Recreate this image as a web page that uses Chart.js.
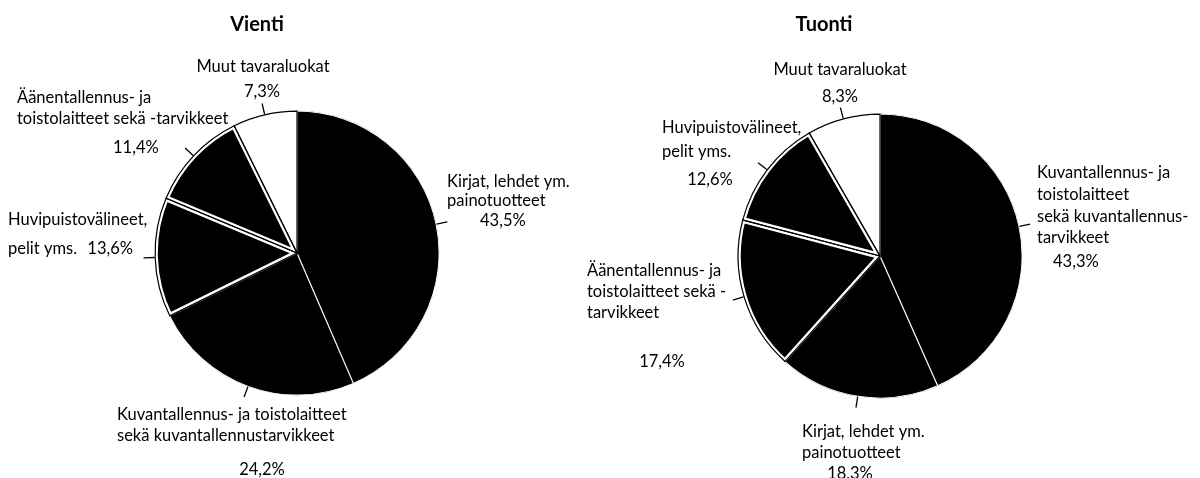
<!DOCTYPE html>
<html><head><meta charset="utf-8">
<script src="https://cdn.jsdelivr.net/npm/chart.js@4/dist/chart.umd.min.js"></script>
<style>
html,body{margin:0;padding:0;background:#fff;width:1200px;height:478px;overflow:hidden}
canvas{position:absolute;left:0;top:0}
</style></head><body>
<canvas id="vienti" width="1200" height="478"></canvas>
<canvas id="tuonti" width="1200" height="478"></canvas>
<script>
// ---- data ----
const titles = ["Vienti", "Tuonti"];
const viCategories = [
  "Kirjat, lehdet ym. painotuotteet",
  "Kuvantallennus- ja toistolaitteet sekä kuvantallennustarvikkeet",
  "Huvipuistovälineet, pelit yms.",
  "Äänentallennus- ja toistolaitteet sekä -tarvikkeet",
  "Muut tavaraluokat"
];
const viValues = [43.5, 24.2, 13.6, 11.4, 7.3];
const tuCategories = [
  "Kuvantallennus- ja toistolaitteet sekä kuvantallennustarvikkeet",
  "Kirjat, lehdet ym. painotuotteet",
  "Äänentallennus- ja toistolaitteet sekä -tarvikkeet",
  "Huvipuistovälineet, pelit yms.",
  "Muut tavaraluokat"
];
const tuValues = [43.3, 18.3, 17.4, 12.6, 8.3];

// ---- label layout (text lines of each category label; last entry = value) ----
const viLabelLayout = [
  {lines:[["Kirjat, lehdet ym.",447,182,"left"],["painotuotteet",447,201,"left"]], value:[480,221,"left"]},
  {lines:[["Kuvantallennus- ja toistolaitteet",117,415,"left"],["sekä kuvantallennustarvikkeet",117,436,"left"]], value:[262,470,"center"]},
  {lines:[["Huvipuistovälineet,",8,220,"left"],["pelit yms.",8,249,"left"]], value:[133,249,"right"]},
  {lines:[["Äänentallennus- ja",17,98,"left"],["toistolaitteet sekä -tarvikkeet",17,119,"left"]], value:[113,148,"left"]},
  {lines:[["Muut tavaraluokat",263,67,"center"]], value:[262,92,"center"]}
];
const tuLabelLayout = [
  {lines:[["Kuvantallennus- ja",1037,173,"left"],["toistolaitteet",1037,195,"left"],["sekä kuvantallennus-",1037,217,"left"],["tarvikkeet",1037,238,"left"]], value:[1053,262,"left"]},
  {lines:[["Kirjat, lehdet ym.",802,432,"left"],["painotuotteet",802,453,"left"]], value:[850,474,"center"]},
  {lines:[["Äänentallennus- ja",587,271,"left"],["toistolaitteet sekä -",587,292,"left"],["tarvikkeet",587,313,"left"]], value:[662,362,"center"]},
  {lines:[["Huvipuistovälineet,",662,128,"left"],["pelit yms.",662,152,"left"]], value:[710,180,"center"]},
  {lines:[["Muut tavaraluokat",840,70,"center"]], value:[840,97,"center"]}
];

const FONT = '16.5px Lato, "Open Sans", sans-serif';
const TITLE_FONT = 'bold 20px Lato, "Open Sans", sans-serif';

// slice styles
const fills = ["#000000", "#000000", "#000000", "#000000", "#ffffff"];
const bandWidths = [0.6, 0.6, 3, 3, 0];
const outlined = [false, false, true, true, true];

function fmt(v){ return v.toFixed(1).replace('.', ',') + '%'; }

const decorPlugin = {
  id: 'decor',
  afterDatasetsDraw(chart, args, opts) {
    const ctx = chart.ctx;
    const meta = chart.getDatasetMeta(0);
    const values = chart.data.datasets[0].data;
    ctx.save();
    // slice outlines
    meta.data.forEach((arc, i) => {
      if (!outlined[i]) return;
      const p = arc.getProps(['x','y','startAngle','endAngle','outerRadius'], true);
      ctx.beginPath();
      ctx.moveTo(p.x, p.y);
      ctx.arc(p.x, p.y, p.outerRadius - 0.6, p.startAngle, p.endAngle);
      ctx.closePath();
      ctx.lineWidth = 1.2;
      ctx.lineJoin = 'miter';
      ctx.strokeStyle = '#000';
      ctx.stroke();
    });
    // leader lines
    meta.data.forEach((arc, i) => {
      const p = arc.getProps(['x','y','startAngle','endAngle','outerRadius'], true);
      const mid = (p.startAngle + p.endAngle) / 2;
      const r0 = p.outerRadius, r1 = p.outerRadius + 11;
      ctx.beginPath();
      ctx.moveTo(p.x + Math.cos(mid) * r0, p.y + Math.sin(mid) * r0);
      ctx.lineTo(p.x + Math.cos(mid) * r1, p.y + Math.sin(mid) * r1);
      ctx.lineWidth = 1.3;
      ctx.strokeStyle = '#000';
      ctx.stroke();
    });
    // labels
    ctx.fillStyle = '#000';
    ctx.textBaseline = 'middle';
    ctx.font = FONT;
    opts.layout.forEach((lab, i) => {
      lab.lines.forEach(([t, x, y, a]) => { ctx.textAlign = a; ctx.fillText(t, x, y); });
      const [vx, vy, va] = lab.value;
      ctx.textAlign = va;
      ctx.fillText(fmt(values[i]), vx, vy);
    });
    // title
    ctx.font = TITLE_FONT;
    ctx.textAlign = 'center';
    ctx.fillText(opts.title, opts.titleX, 25);
    ctx.restore();
  }
};

function makePie(id, categories, values, padding, layout, title, titleX) {
  return new Chart(document.getElementById(id), {
    type: 'pie',
    data: {
      labels: categories,
      datasets: [{
        data: values,
        backgroundColor: fills,
        borderColor: '#ffffff',
        borderWidth: bandWidths,
        borderAlign: 'inner',
        offset: 0,
        hoverOffset: 0
      }]
    },
    options: {
      responsive: false,
      animation: false,
      events: [],
      rotation: 0,
      layout: { padding: padding },
      plugins: {
        legend: { display: false },
        title: { display: false },
        tooltip: { enabled: false },
        decor: { layout: layout, title: title, titleX: titleX }
      }
    },
    plugins: [decorPlugin]
  });
}

makePie('vienti', viCategories, viValues,
  {left: 154.5, right: 760.5, top: 110.5, bottom: 82.5}, viLabelLayout, titles[0], 257);
makePie('tuonti', tuCategories, tuValues,
  {left: 737.5, right: 177.5, top: 113.5, bottom: 79.5}, tuLabelLayout, titles[1], 824);
</script>
</body></html>
